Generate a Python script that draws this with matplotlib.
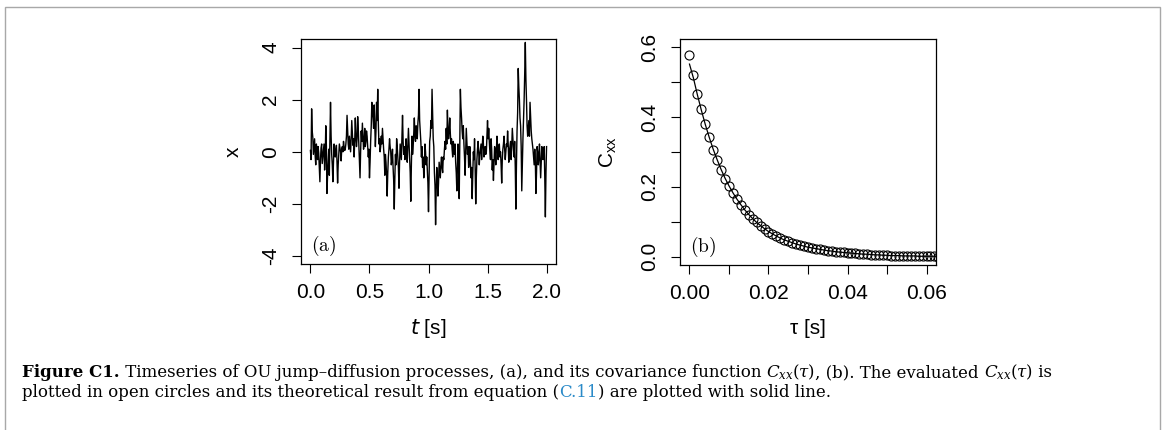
"""
Figure C1 - OU jump-diffusion timeseries (a) and its covariance function (b),
redrawn in the look of base-R graphics, with the journal caption underneath.
"""

import numpy as np
import matplotlib
matplotlib.use('Agg')
import matplotlib.pyplot as plt
from matplotlib.patches import Rectangle

plt.rcParams['font.family'] = ['Liberation Sans', 'DejaVu Sans']

# ── Data ───────────────────────────────────────────────────────────────────────
# (a) timeseries, sampled every 5 ms over 0..2 s (read off the picture)
T_START, T_END = 0.0, 2.0
X_SERIES = [
    0.05, -0.30, 1.65, 0.80, 0.55, -0.10, 0.20, 0.50, -0.15, -0.50, 0.30, 0.10, -0.30, 0.20, -0.05, -0.60, -1.15, -0.30, 0.15, 0.30,
    -0.45, -0.20, 0.05, 0.30, -0.70, -0.20, 1.00, 0.20, -1.60, -0.90, -0.40, 0.10, -0.90, 0.40, 1.90, 0.60, -0.10, -0.50, -1.15, -0.40,
    0.30, -0.10, -0.20, 0.10, 0.25, -0.40, -1.20, -0.50, -0.10, 0.30, 0.15, 0.00, -0.35, 0.10, 0.20, 0.00, 0.40, 0.20, 0.05, 0.10,
    0.30, 0.60, 1.40, 0.80, 0.30, 0.10, 0.60, 0.30, 0.00, 0.50, 1.20, 0.70, 0.25, 0.50, -0.20, 0.40, 1.30, 0.60, 0.20, 0.50,
    1.35, 0.90, 0.30, -0.30, -1.00, 0.00, 0.80, 0.40, 1.10, 0.60, 0.10, 0.40, 0.90, 0.20, 0.40, 0.80, 0.60, 0.20, -0.20, 0.10,
    -1.00, -0.40, 0.40, 1.00, 1.90, 1.50, 1.30, 0.90, 1.80, 1.00, 0.20, 0.80, 1.90, 1.20, 2.40, 1.10, 0.30, 0.50, 0.00, 0.20,
    0.60, 0.30, 0.90, 0.50, 0.10, -0.20, -0.90, -0.10, -0.40, -0.90, -1.70, -0.80, -0.20, 0.10, 0.50, 0.20, 0.00, -0.50, -0.30, 0.10,
    -0.60, -1.10, -2.20, -1.00, -0.10, -0.50, 0.50, 0.20, -0.20, -0.60, -1.40, -0.40, 0.30, 0.00, -0.30, 0.50, 1.40, 0.40, -0.10, 0.20,
    -0.30, 0.10, 0.50, 0.00, -0.40, 0.30, 0.90, 0.30, -0.20, -0.80, -1.90, -0.50, 0.60, -0.10, 0.20, 0.70, 1.30, 0.60, 0.40, 1.00,
    0.90, 0.50, 1.10, 1.40, 2.40, 1.20, 0.80, 0.40, -0.20, 0.20, -0.60, -0.20, -1.00, -0.50, 0.30, 0.00, -0.50, -0.20, -0.70, -1.20,
    -2.30, -1.00, 0.40, 0.60, 1.20, 0.90, 2.40, 1.40, 0.50, 0.20, -0.80, -1.30, -2.80, -1.50, -0.60, -1.10, -1.70, -1.20, -0.40, -0.70,
    -1.00, -0.50, -0.20, -0.60, -0.80, -0.20, -0.30, 0.10, 0.40, 0.10, 0.90, 0.30, 1.60, 0.90, 0.50, 0.80, 1.30, 0.70, 0.30, 0.50,
    0.10, -0.20, 0.40, 0.20, -0.10, 0.30, -0.40, -0.80, -1.50, -0.60, 0.30, -0.40, -1.80, 0.20, 2.40, 1.70, 1.30, 0.80, 0.50, 1.00,
    0.30, -0.20, -0.90, 0.00, 0.90, 0.40, -0.10, 0.20, -0.60, -0.30, 0.20, -0.40, -1.00, -0.60, -1.80, -0.90, 0.00, -0.30, 0.50, -0.60,
    -2.00, -1.00, -0.30, 0.10, 0.40, 0.00, -0.50, -0.10, 0.10, 0.30, -0.30, 0.20, 0.60, 0.30, -0.20, 0.10, 0.20, -0.10, 0.00, 0.60,
    1.20, 0.50, 0.90, 0.40, 0.00, -0.30, 0.50, 0.10, -0.70, -0.30, -1.10, -0.50, 0.20, 0.00, -0.50, 0.10, 0.60, 0.20, -0.30, 0.10,
    0.30, -0.20, 0.00, -0.50, -1.20, -0.30, 0.10, 0.30, 0.60, 0.10, -0.30, 0.00, 0.30, 0.20, 0.80, 0.30, -0.40, 0.00, 0.20, 0.40,
    -0.30, 0.20, 0.90, 0.50, 0.10, -0.20, 0.40, -0.60, -2.20, -0.50, 0.80, 1.50, 3.20, 2.50, 2.00, 1.30, 1.00, 0.20, -1.50, -0.40,
    0.50, 1.20, 2.00, 3.00, 4.20, 2.80, 2.00, 1.00, 0.60, 0.90, 1.20, 0.60, 1.90, 1.30, 0.80, 0.50, 0.30, 0.10, -0.20, -0.50,
    0.10, -0.40, -1.60, -0.80, 0.20, 0.00, -0.50, -0.20, 0.30, -0.30, -1.00, -0.40, 0.20, 0.10, -0.30, -0.10, 0.20, -1.00, -2.50, -0.80,
    0.20,
]

# (b) covariance, lag step 1 ms: evaluated (circles) and theory (line)
TAU_STEP = 0.001
CXX_EST = [
    0.578, 0.520, 0.467, 0.422, 0.380, 0.342, 0.307, 0.277, 0.249, 0.224,
    0.202, 0.182, 0.164, 0.148, 0.133, 0.120, 0.108, 0.098, 0.088, 0.080,
    0.072, 0.065, 0.059, 0.053, 0.048, 0.044, 0.040, 0.036, 0.033, 0.030,
    0.027, 0.025, 0.023, 0.021, 0.019, 0.017, 0.016, 0.014, 0.013, 0.012,
    0.011, 0.010, 0.009, 0.008, 0.007, 0.007, 0.006, 0.005, 0.005, 0.004,
    0.004, 0.003, 0.003, 0.003, 0.002, 0.002, 0.002, 0.002, 0.001, 0.001,
    0.001, 0.001, 0.001, 0.000,
]
CXX_THEORY = [
    0.552, 0.512, 0.464, 0.420, 0.379, 0.342, 0.308, 0.278, 0.250, 0.225,
    0.203, 0.183, 0.165, 0.149, 0.134, 0.121, 0.109, 0.098, 0.089, 0.080,
    0.072, 0.065, 0.059, 0.053, 0.048, 0.044, 0.040, 0.036, 0.033, 0.030,
    0.027, 0.025, 0.023, 0.021, 0.019, 0.017, 0.016, 0.014, 0.013, 0.012,
    0.011, 0.010, 0.009, 0.008, 0.007, 0.007, 0.006, 0.005, 0.005, 0.004,
    0.004, 0.003, 0.003, 0.003, 0.002, 0.002, 0.002, 0.002, 0.001, 0.001,
    0.001, 0.001, 0.001, 0.001,
]

A_XTICKS = [0.0, 0.5, 1.0, 1.5, 2.0]
A_XLABELS = ['0.0', '0.5', '1.0', '1.5', '2.0']
A_YTICKS = [-4, -2, 0, 2, 4]
A_YLABELS = ['-4', '-2', '0', '2', '4']
B_XTICKS = [0.00, 0.01, 0.02, 0.03, 0.04, 0.05, 0.06]
B_XLABELS = ['0.00', '', '0.02', '', '0.04', '', '0.06']
B_YTICKS = [0.0, 0.1, 0.2, 0.3, 0.4, 0.5, 0.6]
B_YLABELS = ['0.0', '', '0.2', '', '0.4', '', '0.6']

t = np.linspace(T_START, T_END, len(X_SERIES))
tau_est = np.arange(len(CXX_EST)) * TAU_STEP
tau_th = np.arange(len(CXX_THEORY)) * TAU_STEP

# ── Figure ─────────────────────────────────────────────────────────────────────
W, H = 1168, 430
FS = 15          # R cex=1 text for ticks and axis titles
fig = plt.figure(figsize=(W / 100, H / 100), dpi=100)
fig.patch.set_facecolor('white')

def px_rect(x0, y0, x1, y1):
    return [x0 / W, 1 - y1 / H, (x1 - x0) / W, (y1 - y0) / H]

def r_axes(ax, xlim, ylim):
    # base-R: 4% padding around the data range, outward ticks
    dx = (xlim[1] - xlim[0]) * 0.04
    dy = (ylim[1] - ylim[0]) * 0.04
    ax.set_xlim(xlim[0] - dx, xlim[1] + dx)
    ax.set_ylim(ylim[0] - dy, ylim[1] + dy)
    for s in ax.spines.values():
        s.set_linewidth(0.9)
    ax.tick_params(direction='out', length=6.5, width=0.8, labelsize=FS,
                   color='black')
    ax.tick_params(axis='x', pad=7)
    ax.tick_params(axis='y', pad=8.5)
    for lbl in ax.get_yticklabels():
        lbl.set_rotation(90)
        lbl.set_va('center')

# (a) timeseries
axa = fig.add_axes(px_rect(301, 39.3, 556, 264.3))
axa.plot(t, X_SERIES, color='black', lw=1.0)
axa.set_xticks(A_XTICKS, A_XLABELS)
axa.set_yticks(A_YTICKS, A_YLABELS)
r_axes(axa, (0, 2), (-4, 4))
axa.text(0.04, 0.08, r'$\mathrm{(a)}$', transform=axa.transAxes,
         fontsize=14, math_fontfamily='cm', ha='left', va='center')
fig.text(428.5 / W, 1 - 328 / H, r'$t$ [s]', ha='center', va='center',
         fontsize=FS, math_fontfamily='dejavusans')
fig.text(233 / W, 1 - 152 / H, 'x', ha='center', va='center',
         fontsize=FS, rotation=90)

# (b) covariance
axb = fig.add_axes(px_rect(680, 39, 936, 265))
axb.plot(tau_th, CXX_THEORY, color='black', lw=0.9)
axb.plot(tau_est, CXX_EST, 'o', mfc='none', mec='black', ms=6.5, mew=0.8)
axb.set_xticks(B_XTICKS, B_XLABELS)
axb.set_yticks(B_YTICKS, B_YLABELS)
r_axes(axb, (0, 0.06), (0, 0.6))
axb.text(0.04, 0.08, r'$\mathrm{(b)}$', transform=axb.transAxes,
         fontsize=14, math_fontfamily='cm', ha='left', va='center')
fig.text(808 / W, 1 - 328 / H, 'τ [s]', ha='center', va='center', fontsize=FS)
fig.text(608 / W, 1 - 152 / H, r'$\mathregular{C_{xx}}$', ha='center',
         va='center', fontsize=FS, rotation=90)

# ── Caption ────────────────────────────────────────────────────────────────────
CAP_FS = 12.0
CAP_BLUE = '#2a8ac8'
cap_lines = [
    (377, [('Figure C1.', 'bold', 'black'),
           (' Timeseries of OU jump\u2013diffusion processes, (a), and its covariance function ', 'normal', 'black'),
           (r'$C_{xx}(\tau)$', 'normal', 'black'),
           (', (b). The evaluated ', 'normal', 'black'),
           (r'$C_{xx}(\tau)$', 'normal', 'black'),
           (' is', 'normal', 'black')]),
    (397, [('plotted in open circles and its theoretical result from equation (', 'normal', 'black'),
           ('C.11', 'normal', CAP_BLUE),
           (') are plotted with solid line.', 'normal', 'black')]),
]
renderer = fig.canvas.get_renderer()
for y_px, pieces in cap_lines:
    x_px = 22
    for s, fw, col in pieces:
        txt = fig.text(x_px / W, 1 - y_px / H, s, fontsize=CAP_FS,
                       family='DejaVu Serif', fontweight=fw, color=col,
                       math_fontfamily='dejavuserif', ha='left', va='baseline')
        x_px += txt.get_window_extent(renderer).width

# light frame around the whole figure block
fig.patches.append(Rectangle((5 / W, -0.2), 1155 / W, 0.2 + (1 - 7 / H),
                             transform=fig.transFigure, fill=False,
                             ec='#a8a8a8', lw=1.0))

fig.savefig('out.png', dpi=100, facecolor='white')
